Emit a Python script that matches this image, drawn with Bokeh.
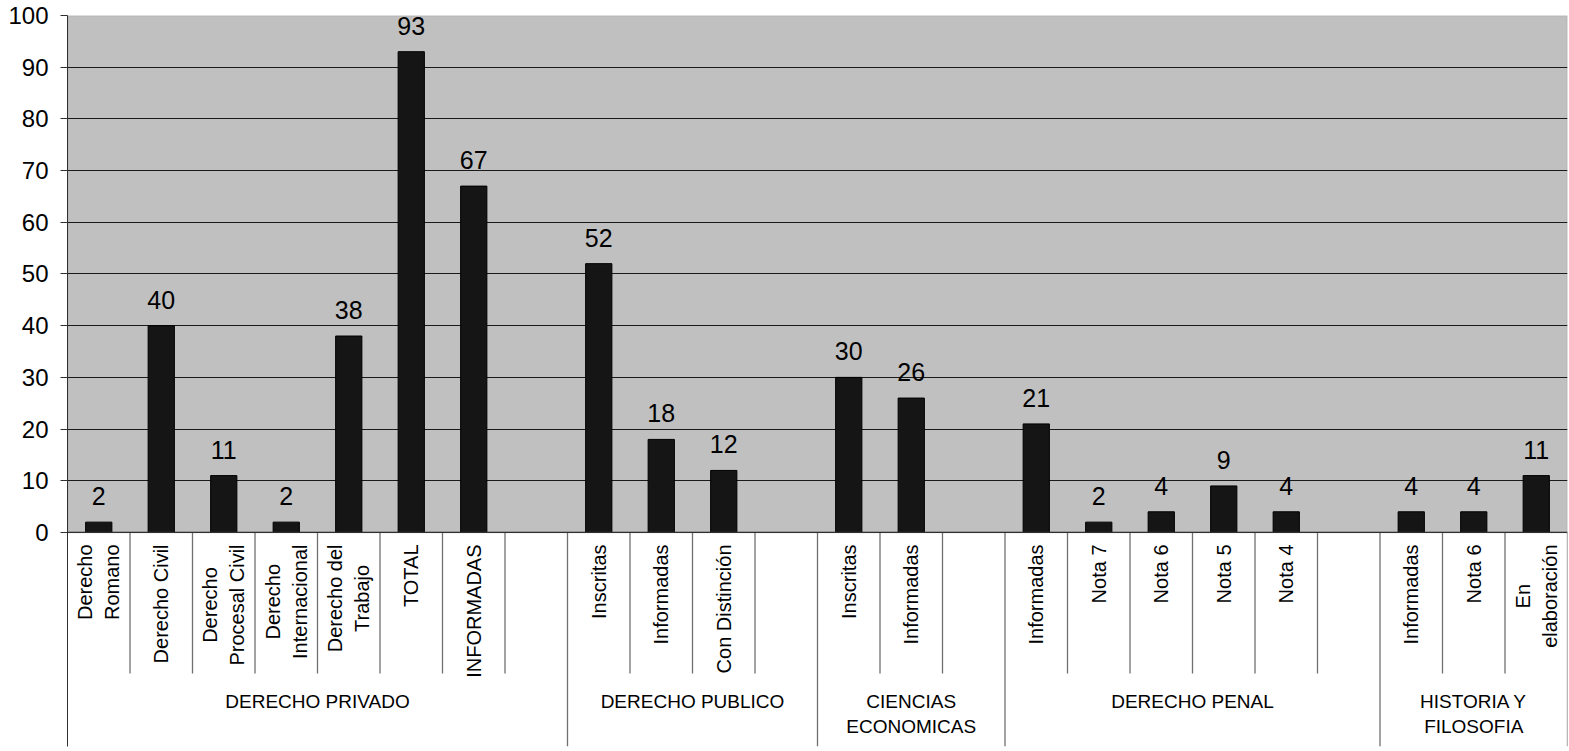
from bokeh.plotting import figure
from bokeh.models import Range1d, FixedTicker, BoxAnnotation, ColumnDataSource, Span
from bokeh.core.properties import value
from bokeh.embed import file_html
from bokeh.resources import INLINE

# ---- data ----
group_names = ["DERECHO PRIVADO", "DERECHO PUBLICO", "CIENCIAS\nECONOMICAS",
               "DERECHO PENAL", "HISTORIA Y\nFILOSOFIA"]
privado_labels = ["Derecho\nRomano", "Derecho Civil", "Derecho\nProcesal Civil",
                  "Derecho\nInternacional", "Derecho del\nTrabajo", "TOTAL", "INFORMADAS", ""]
privado_values = [2, 40, 11, 2, 38, 93, 67, None]
publico_labels = ["Inscritas", "Informadas", "Con Distinción", ""]
publico_values = [52, 18, 12, None]
economicas_labels = ["Inscritas", "Informadas", ""]
economicas_values = [30, 26, None]
penal_labels = ["Informadas", "Nota 7", "Nota 6", "Nota 5", "Nota 4", ""]
penal_values = [21, 2, 4, 9, 4, None]
historia_labels = ["Informadas", "Nota 6", "En\nelaboración"]
historia_values = [4, 4, 11]
y_ticks = [0, 10, 20, 30, 40, 50, 60, 70, 80, 90, 100]

group_labels = [privado_labels, publico_labels, economicas_labels, penal_labels, historia_labels]
group_values = [privado_values, publico_values, economicas_values, penal_values, historia_values]

# ---- layout constants ----
FONT = "Liberation Sans"
Y_MIN = -41.4   # space below zero used for the category label area
BAR_W = 0.42
SUB_PX = 20
SUB_GAP = 12

# approximate Arial/Liberation Sans advance widths (per 1000 em), for centring multi-line labels
ADV = {" ": 278, "A": 667, "B": 667, "C": 722, "D": 722, "E": 667, "F": 611, "I": 278,
       "L": 556, "M": 833, "N": 722, "O": 778, "P": 667, "R": 722, "S": 667, "T": 611,
       "U": 722, "a": 556, "b": 556, "c": 500, "d": 556, "e": 556, "f": 278, "h": 556,
       "i": 222, "j": 222, "l": 222, "m": 833, "n": 556, "o": 556, "r": 333, "s": 500,
       "t": 278, "v": 500, "ó": 556}


def text_px(s, size):
    return sum(ADV.get(ch, 556) for ch in s) * size / 1000.0


# flatten slots
slot_labels, slot_values = [], []
group_start, group_end = [], []
for labs, vals in zip(group_labels, group_values):
    group_start.append(len(slot_labels))
    slot_labels += labs
    slot_values += vals
    group_end.append(len(slot_labels))
n_slots = len(slot_labels)

bar_x = [i + 0.5 for i, v in enumerate(slot_values) if v is not None]
bar_top = [v for v in slot_values if v is not None]
bar_src = ColumnDataSource(dict(x=bar_x, top=bar_top, txt=[str(v) for v in bar_top]))

single = [(i + 0.5, s) for i, s in enumerate(slot_labels) if s and "\n" not in s]
multi = [(i + 0.5, s) for i, s in enumerate(slot_labels) if "\n" in s]
single_src = ColumnDataSource(dict(x=[a for a, _ in single], y=[0] * len(single),
                                   txt=[b for _, b in single]))
multi_src = ColumnDataSource(dict(
    x=[a for a, _ in multi], y=[0] * len(multi), txt=[b for _, b in multi],
    off=[SUB_GAP + max(text_px(line, SUB_PX) for line in b.split("\n")) / 2 for _, b in multi]))

grp_src = ColumnDataSource(dict(x=[(s + e) / 2 for s, e in zip(group_start, group_end)],
                                y=[0] * len(group_names), txt=group_names))

boundaries = set(group_start) | set(group_end)
inner_x = [k for k in range(1, n_slots) if k not in boundaries]
outer_x = [k for k in sorted(boundaries) if k != 0]

p = figure(width=1569, height=751, output_backend="svg", toolbar_location=None,
           x_range=Range1d(0, n_slots), y_range=Range1d(Y_MIN, 100),
           min_border_left=67, min_border_right=2, min_border_top=15, min_border_bottom=5)
p.outline_line_color = None
p.background_fill_color = "white"
p.xaxis.visible = False
p.xgrid.visible = False

# grey plotting area
p.add_layout(BoxAnnotation(left=0, right=n_slots, bottom=0, top=100,
                           fill_color="#C0C0C0", fill_alpha=1.0,
                           line_color="#808080", line_width=1.5, level="image"))

p.ygrid.ticker = FixedTicker(ticks=y_ticks[1:-1])
p.ygrid.grid_line_color = "#1a1a1a"
p.ygrid.grid_line_width = 1

yax = p.yaxis[0]
yax.ticker = FixedTicker(ticks=y_ticks)
yax.major_label_text_font = FONT
yax.major_label_text_font_size = "24px"
yax.major_label_text_color = "black"
yax.major_tick_in = 0
yax.major_tick_out = 7
yax.minor_tick_line_color = None
yax.major_label_standoff = 12
yax.axis_line_color = "#303030"
yax.major_tick_line_color = "#303030"

# zero line
p.add_layout(Span(location=0, dimension="width", line_color="#303030", line_width=1.2))

# separators
p.segment(x0=inner_x, y0=[0] * len(inner_x), x1=inner_x, y1=[-27.3] * len(inner_x),
          line_color="#707070", line_width=1.3)
p.segment(x0=outer_x, y0=[0] * len(outer_x), x1=outer_x, y1=[Y_MIN] * len(outer_x),
          line_color="#707070", line_width=1.3)

# bars
p.vbar(x="x", top="top", bottom=0, width=BAR_W, source=bar_src,
       fill_color="#151515", line_color="black", line_width=1)

# value labels
p.text(x="x", y="top", text="txt", source=bar_src, text_font=value(FONT),
       text_font_size="25px", text_color="black", text_align="center",
       text_baseline="middle", y_offset=-26)

# sub labels (rotated)
p.text(x="x", y="y", text="txt", source=single_src, text_font=value(FONT),
       text_font_size=f"{SUB_PX}px", text_color="black", text_align="right",
       text_baseline="middle", angle=1.5707963, y_offset=SUB_GAP)
p.text(x="x", y="y", text="txt", source=multi_src, text_font=value(FONT),
       text_font_size=f"{SUB_PX}px", text_color="black", text_align="center",
       text_baseline="middle", anchor="center", angle=1.5707963, y_offset="off",
       text_line_height=1.23)

# group labels
p.text(x="x", y="y", text="txt", source=grp_src, text_font=value(FONT),
       text_font_size="19px", text_color="black", text_align="center",
       text_baseline="top", y_offset=159, text_line_height=1.19)

open("out.html", "w").write(file_html(p, INLINE))
